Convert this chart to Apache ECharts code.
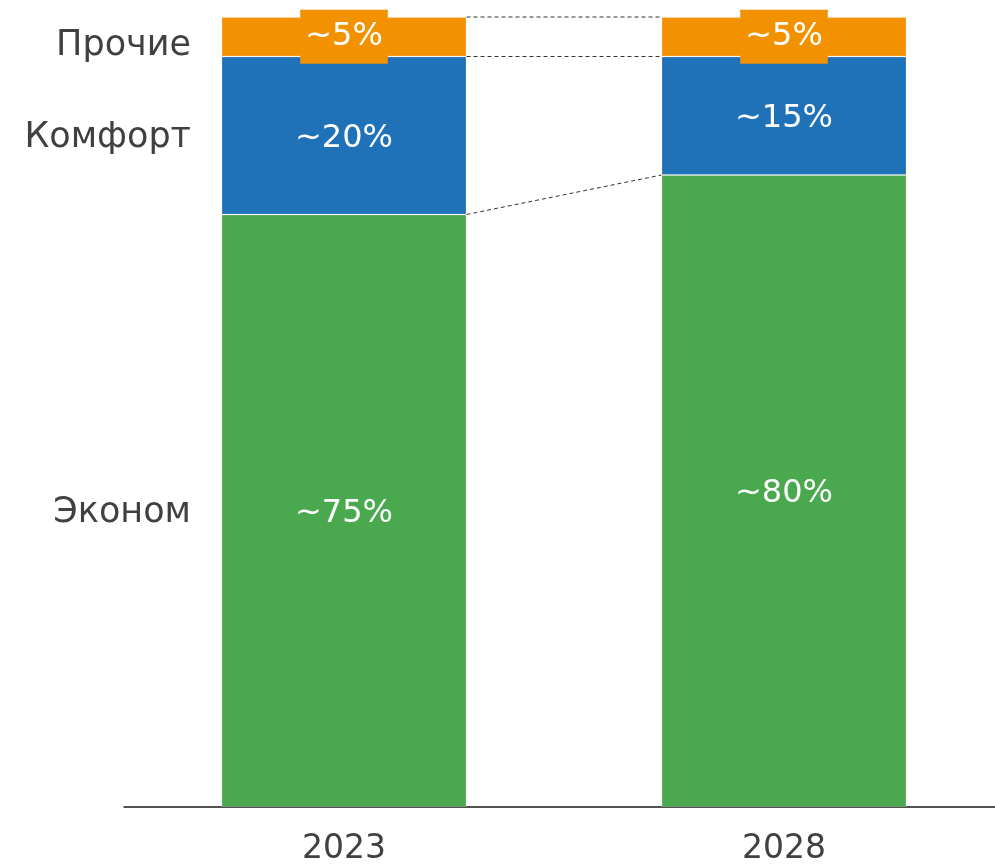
<!DOCTYPE html>
<html>
<head>
<meta charset="utf-8">
<script src="https://cdn.jsdelivr.net/npm/echarts@6/dist/echarts.min.js"></script>
<style>
  html, body { margin: 0; padding: 0; background: #fff; }
  #main { width: 995px; height: 864px; }
</style>
</head>
<body>
<div id="main"></div>
<script>
// данные
var years = ['2023', '2028'];
var segNames = ['Эконом', 'Комфорт', 'Прочие'];
var econ = [75, 80];
var comfort = [20, 15];
var other = [5, 5];

var colors = ['#4AA84F', '#1F71B8', '#F39200'];
var FONT = '"DejaVu Sans", sans-serif';
var BAR_W = 245;

var chart = echarts.init(document.getElementById('main'));

// cumulative tops per year, for connectors and left labels
var tops = [econ, comfort, other].map(function (s, i, all) {
    return years.map(function (y, j) {
        var t = 0;
        for (var k = 0; k <= i; k++) t += all[k][j];
        return t;
    });
});
var connectors = tops.map(function (t) { return [t[0], t[1]]; });

var leftLabels = [econ, comfort, other].map(function (s, i) {
    var base = i === 0 ? 0 : tops[i - 1][0];
    return { name: segNames[i], value: [0, base + s[0] / 2] };
});

function barSeries(name, data, color, isTop) {
    return {
        name: name,
        type: 'bar',
        stack: 'total',
        barWidth: BAR_W,
        data: data,
        itemStyle: { color: color, borderColor: 'rgba(255,255,255,0.2)', borderWidth: 1 },
        label: {
            show: true,
            position: 'inside',
            formatter: '~{c}%',
            color: '#fff',
            fontFamily: FONT,
            fontSize: 32,
            offset: isTop ? [0, 0] : [0, 3],
            backgroundColor: isTop ? color : 'transparent',
            padding: isTop ? [12, 5, 6, 5] : 0,
            lineHeight: 36
        },
        silent: true
    };
}

chart.setOption({
    animation: false,
    grid: { left: 124, width: 880, top: 17, bottom: 57, outerBoundsMode: 'none', containLabel: false },
    xAxis: {
        type: 'category',
        data: years,
        axisLine: { lineStyle: { color: '#1a1a1a', width: 1.5 } },
        axisTick: { show: false },
        axisLabel: { color: '#404040', fontFamily: FONT, fontSize: 33, margin: 26 }
    },
    yAxis: { type: 'value', min: 0, max: 100, show: false },
    series: [
        barSeries(segNames[0], econ, colors[0], false),
        barSeries(segNames[1], comfort, colors[1], false),
        barSeries(segNames[2], other, colors[2], true),
        {
            type: 'scatter',
            symbolSize: 0,
            silent: true,
            itemStyle: { opacity: 1 },
            data: leftLabels.map(function (d, i) {
                return { name: d.name, value: d.value, label: { offset: [0, i === 2 ? 9 : 2] } };
            }),
            label: {
                show: true,
                position: 'left',
                distance: 153,
                formatter: '{b}',
                color: '#404040',
                opacity: 1,
                fontFamily: FONT,
                fontSize: 35
            }
        },
        {
            type: 'custom',
            silent: true,
            clip: false,
            z: 5,
            data: connectors,
            renderItem: function (params, api) {
                var p1 = api.coord([0, api.value(0)]);
                var p2 = api.coord([1, api.value(1)]);
                return {
                    type: 'line',
                    shape: { x1: p1[0] + BAR_W / 2, y1: p1[1], x2: p2[0] - BAR_W / 2, y2: p2[1] },
                    style: { stroke: '#333', lineWidth: 1, lineDash: [4, 3] }
                };
            }
        }
    ]
});
</script>
</body>
</html>
